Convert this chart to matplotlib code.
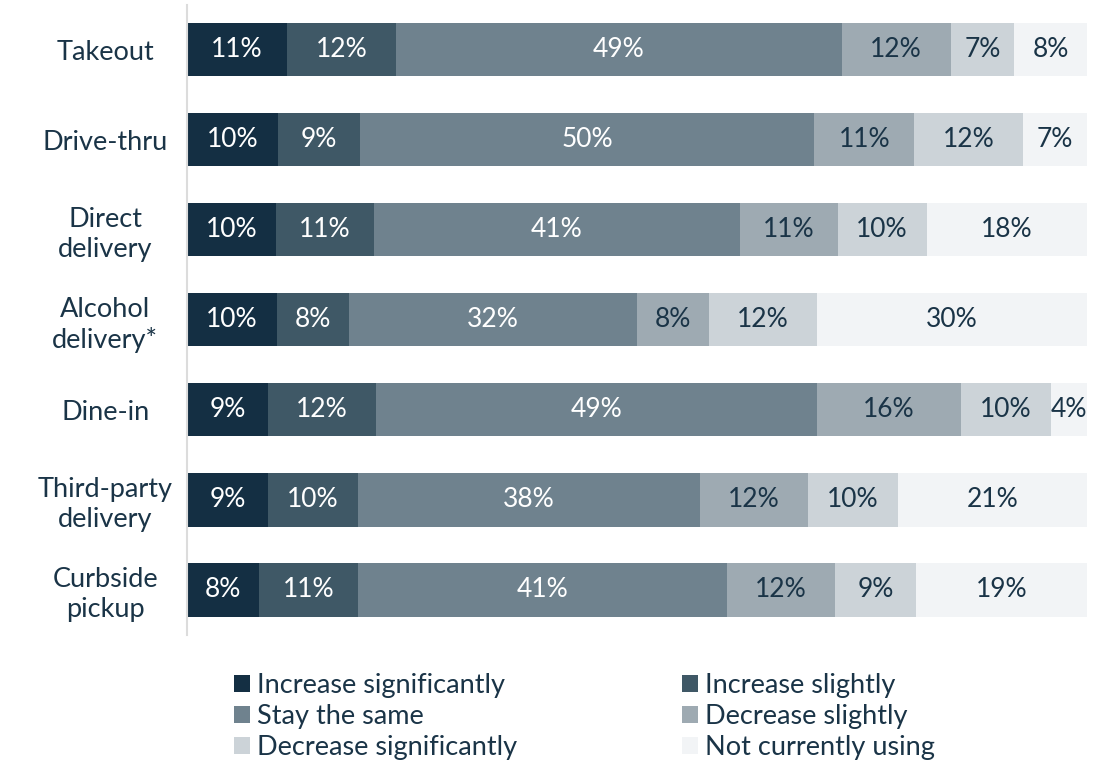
import matplotlib.pyplot as plt
import numpy as np
from matplotlib.patches import Patch

plt.rcParams['font.family'] = ['Lato', 'DejaVu Sans']

categories = ['Takeout', 'Drive-thru', 'Direct\ndelivery', 'Alcohol\ndelivery*',
              'Dine-in', 'Third-party\ndelivery', 'Curbside\npickup']
series = ['Increase significantly', 'Increase slightly', 'Stay the same',
          'Decrease slightly', 'Decrease significantly', 'Not currently using']
increase_sig = [11, 10, 10, 10, 9, 9, 8]
increase_sli = [12, 9, 11, 8, 12, 10, 11]
stay_same = [49, 50, 41, 32, 49, 38, 41]
decrease_sli = [12, 11, 11, 8, 16, 12, 12]
decrease_sig = [7, 12, 10, 12, 10, 10, 9]
not_using = [8, 7, 18, 30, 4, 21, 19]

colors = ['#142f43', '#3f5866', '#6f828e', '#9eaab2', '#ccd3d8', '#f2f4f6']
text_colors = ['white', 'white', 'white', '#1a3447', '#1a3447', '#1a3447']
dark = '#1a3447'

data = np.array([increase_sig, increase_sli, stay_same, decrease_sli, decrease_sig, not_using], dtype=float)
totals = data.sum(axis=0)
shares = data / totals * 100

fig = plt.figure(figsize=(11.07, 7.61), dpi=100)
ax = fig.add_axes([0.169, 0.1656, 0.813, 0.828])

y = np.arange(len(categories))
left = np.zeros(len(categories))
for i in range(len(series)):
    bars = ax.barh(y, shares[i], left=left, height=0.59, color=colors[i], label=series[i])
    for j, b in enumerate(bars):
        ax.text(left[j] + shares[i][j] / 2, y[j], f'{int(data[i][j])}%',
                ha='center', va='center', color=text_colors[i], fontsize=19)
    left += shares[i]

ax.set_xlim(0, 100)
ax.set_ylim(6.5, -0.5)
ax.set_yticks(y)
ax.set_yticklabels(categories, fontsize=19.5, color=dark, ha='center', linespacing=1.25)
ax.tick_params(axis='y', length=0, pad=59)
ax.set_xticks([])
for s in ['top', 'right', 'bottom']:
    ax.spines[s].set_visible(False)
ax.spines['left'].set_color('#dcdcdc')
ax.spines['left'].set_linewidth(1.5)

order = [0, 2, 4, 1, 3, 5]
handles = [Patch(facecolor=colors[k], edgecolor='none') for k in order]
labels = [series[k] for k in order]
fig.legend(handles, labels, ncol=2, loc='upper left', bbox_to_anchor=(0.189, 0.148),
           frameon=False, fontsize=19.5, labelcolor=dark, handlelength=0.6, handleheight=0.6,
           handletextpad=0.25, columnspacing=6.1, labelspacing=0.22)

plt.savefig('out.png', dpi=100)
